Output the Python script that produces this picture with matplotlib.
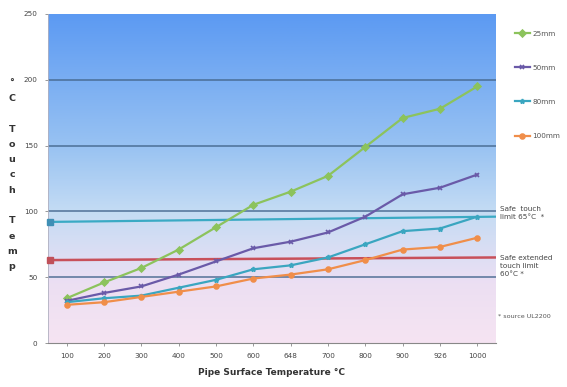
import numpy as np
import matplotlib
matplotlib.use("Agg")
import matplotlib.pyplot as plt
from matplotlib.colors import LinearSegmentedColormap

categories = ["100", "200", "300", "400", "500", "600", "648", "700", "800", "900", "926", "1000"]
s25 = [34, 46, 57, 71, 88, 105, 115, 127, 149, 171, 178, 195]
s50 = [32, 38, 43, 52, 62, 72, 77, 84, 96, 113, 118, 128]
s80 = [31, 34, 36, 42, 48, 56, 59, 65, 75, 85, 87, 96]
s100 = [29, 31, 35, 39, 43, 49, 52, 56, 63, 71, 73, 80]
safe_touch = [92, 96]
safe_ext = [63, 65]
yticks = [0, 50, 100, 150, 200, 250]

fig = plt.figure(figsize=(5.67, 3.87), dpi=100)
ax = fig.add_axes([48/567, 1-343/387, 448/567, 329/387])
n = len(categories)
x = np.arange(n)
ax.set_xlim(-0.5, n-0.5)
ax.set_ylim(0, 250)

# background gradient
cmap = LinearSegmentedColormap.from_list("bg", [
    (0.0, "#f6e4f2"), (0.18, "#ecdff3"), (0.4, "#c4dcf4"), (0.6, "#98c2f2"), (1.0, "#5c9af2")])
grad = np.linspace(0, 1, 256).reshape(-1, 1)
ax.imshow(grad, aspect="auto", cmap=cmap, origin="lower",
          extent=[-0.5, n-0.5, 0, 250], zorder=0)

for y in yticks[1:-1]:
    ax.axhline(y, color="#46688f", lw=1.2, alpha=0.85, zorder=1)

# limit lines
ax.plot([-0.5, n-0.5], safe_touch, color="#3aaac4", lw=1.6, zorder=2)
ax.plot([-0.45], [safe_touch[0]], marker="s", color="#3f8fb5", ms=4, zorder=3, clip_on=False)
ax.plot([-0.5, n-0.5], safe_ext, color="#c8505a", lw=1.8, zorder=2)
ax.plot([-0.45], [safe_ext[0]], marker="s", color="#c0505a", ms=4, zorder=3, clip_on=False)

series = [
    ("25mm", s25, "#8cc35c", "D"),
    ("50mm", s50, "#6a5aa8", "x"),
    ("80mm", s80, "#3aa6c0", "*"),
    ("100mm", s100, "#f08e4a", "o"),
]
handles = []
for name, vals, col, mk in series:
    h, = ax.plot(x, vals, color=col, lw=1.6, marker=mk, ms=3.5, mew=1.2, zorder=4, label=name)
    handles.append(h)

ax.set_xticks(x)
ax.set_xticklabels(categories, fontsize=5.2, color="#444444")
ax.set_yticks(yticks)
ax.set_yticklabels([str(v) for v in yticks], fontsize=5.2, color="#444444")
ax.tick_params(axis="both", length=2.5, width=0.6, color="#888888", pad=5)
for s in ["top", "right"]:
    ax.spines[s].set_visible(False)
ax.spines["left"].set_color("#b0b0c0")
ax.spines["bottom"].set_color("#888888")
ax.spines["left"].set_linewidth(0.6)

ax.set_xlabel("Pipe Surface Temperature °C", fontsize=6.5, fontweight="bold", color="#333333", labelpad=6)

fig.text(12/567, 1-175/387, "°\nC\n\nT\no\nu\nc\nh\n\nT\ne\nm\np", fontsize=6.8, fontweight="bold",
         color="#333333", ha="center", va="center", linespacing=1.9)

fig.legend(handles=handles, loc="upper left", bbox_to_anchor=(508/567, 1-24/387), frameon=False,
           fontsize=5.2, labelspacing=3.9, handlelength=2.2, handletextpad=0.3, labelcolor="#555555")

fig.text(500/567, 1-213/387, "Safe  touch\nlimit 65°C  *", fontsize=5.2, color="#444444", va="center", linespacing=1.5)
fig.text(500/567, 1-266/387, "Safe extended\ntouch limit\n60°C *", fontsize=5.2, color="#444444", va="center", linespacing=1.5)
fig.text(498/567, 1-316/387, "* source UL2200", fontsize=4.6, color="#555555", va="center")

fig.savefig("out.png", dpi=100)
